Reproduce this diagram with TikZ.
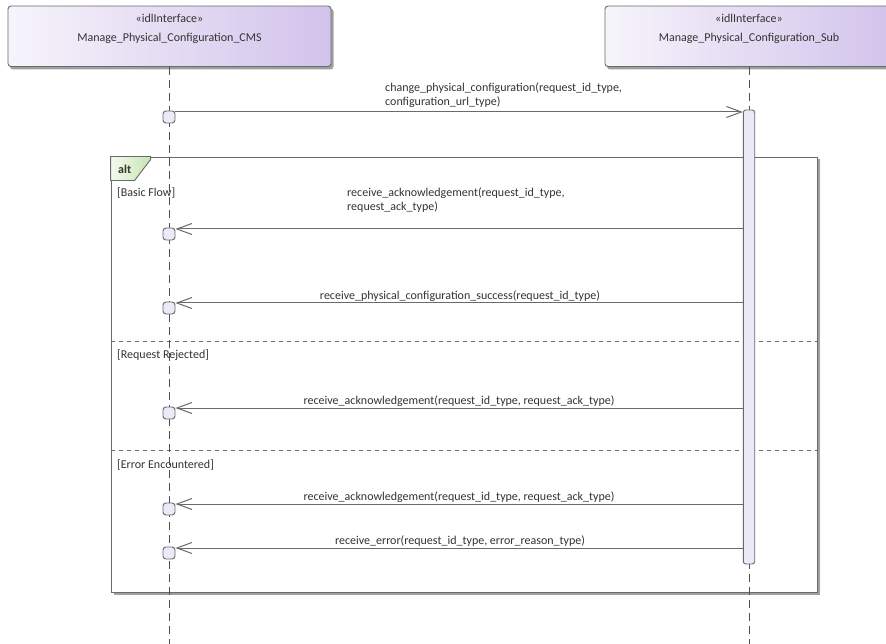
\documentclass[tikz,border=0pt]{standalone}
\usepackage{fontspec}
\setmainfont{Carlito}
\usetikzlibrary{arrows.meta,calc}
\definecolor{txt}{HTML}{333333}
\definecolor{ln}{HTML}{6A6A6A}
\definecolor{lifec}{HTML}{505050}
\definecolor{headL}{HTML}{F6F4FB}
\definecolor{headR}{HTML}{D2C3EB}
\definecolor{actfill}{HTML}{ECE9F8}
\definecolor{tabL}{HTML}{F4FAEE}
\definecolor{tabR}{HTML}{C8E5B4}
\definecolor{shadowc}{HTML}{A0A0A0}
\begin{document}
\begin{tikzpicture}[x=1pt,y=-1pt,
  every node/.style={font=\fontsize{12}{14}\selectfont, text=txt, inner sep=0pt},
  headbox/.style={draw=ln, line width=0.9pt, rounded corners=3pt,
    left color=headL, right color=headR, minimum height=60.5},
  shade box/.style={fill=shadowc, rounded corners=3pt},
  lifeline/.style={draw=lifec, line width=0.9pt, dash pattern=on 8pt off 5pt},
  actbar/.style={draw=ln, line width=0.9pt, fill=actfill, rounded corners=2.5pt,
    minimum width=11.4, minimum height=454},
  endpt/.style={draw=ln, line width=0.9pt, fill=actfill, rounded corners=3pt,
    minimum width=12, minimum height=12},
  msg/.style={draw=ln, line width=1pt, -{Straight Barb[length=15pt,width=11pt,line width=1pt]}},
  frm/.style={draw=ln, line width=0.9pt, fill=white},
  sep/.style={draw=ln, line width=0.9pt, dash pattern=on 4pt off 4pt},
  guard/.style={anchor=west},
  lbl/.style={align=left, anchor=west}]
\path[use as bounding box] (0,0) rectangle (886,644);
\fill[white] (0,0) rectangle (886,644);

% alt frame
\fill[shadowc] (113.5,159.5) rectangle (819.5,594.5);
\node[frm, minimum width=706, minimum height=435] (altf) at (464,374.5) {};
\fill[left color=tabL, right color=tabR, draw=ln, line width=0.9pt]
  (altf.north west) -- ++(40,0) -- ++(0,3) -- ++(-16,21) -- ++(-24,0) -- cycle;
\node[anchor=west, font=\fontsize{12}{14}\selectfont\bfseries] (altlbl) at (118,169) {alt};
\coordinate (s1) at (0,341);
\coordinate (s2) at (0,450);
\draw[sep] (altf.west |- s1) -- (altf.east |- s1);
\draw[sep] (altf.west |- s2) -- (altf.east |- s2);
\node[guard] (g1) at (117,193) {[Basic Flow]};
\node[guard] (g2) at (117,355) {[Request Rejected]};
\node[guard] (g3) at (117,465) {[Error Encountered]};

% lifeline heads
\fill[shade box] (10,8.5) rectangle (333.5,69.5);
\node[headbox, minimum width=323] (cms) at (169.5,36.3) {};
\begin{scope}
\clip (0,0) rectangle (886,644);
\fill[shade box] (607,8.5) rectangle (895,69.5);
\node[headbox, minimum width=288] (sub) at (749,36.3) {};
\end{scope}
\node (cmsst) at (169.5,18) {«idlInterface»};
\node (cmsnm) at (169.5,38.5) {Manage\_Physical\_Configuration\_CMS};
\node (subst) at (749,18) {«idlInterface»};
\node (subnm) at (749,38.5) {Manage\_Physical\_Configuration\_Sub};

\coordinate (cmsend) at (169,644);
\coordinate (subend) at (749,644);
\draw[lifeline] (cms.south -| cmsend) -- (cmsend);
\draw[lifeline] (sub.south -| subend) -- (subend);

% activation
\node[actbar] (actb) at (749,337) {};

% message end points
\node[endpt] (c1) at (169,117) {};
\node[endpt] (c2) at (169,234) {};
\node[endpt] (c3) at (169,308) {};
\node[endpt] (c4) at (169,413) {};
\node[endpt] (c5) at (169,509) {};
\node[endpt] (c6) at (169,553) {};

\coordinate (y1) at (0,112);
\coordinate (y2) at (0,229);
\coordinate (y3) at (0,303);
\coordinate (y4) at (0,408);
\coordinate (y5) at (0,504);
\coordinate (y6) at (0,548);

\draw[msg] (c1.east |- y1) -- (actb.west |- y1);
\draw[msg] (actb.west |- y2) -- (c2.east |- y2);
\draw[msg] (actb.west |- y3) -- (c3.east |- y3);
\draw[msg] (actb.west |- y4) -- (c4.east |- y4);
\draw[msg] (actb.west |- y5) -- (c5.east |- y5);
\draw[msg] (actb.west |- y6) -- (c6.east |- y6);

\node[lbl] (l1) at (385,94.7) {change\_physical\_configuration(request\_id\_type,\\configuration\_url\_type)};
\node[lbl] (l2) at (347,200) {receive\_acknowledgement(request\_id\_type,\\request\_ack\_type)};
\node (l3) at (460,296.5) {receive\_physical\_configuration\_success(request\_id\_type)};
\node (l4) at (459,401.5) {receive\_acknowledgement(request\_id\_type, request\_ack\_type)};
\node (l5) at (459,497) {receive\_acknowledgement(request\_id\_type, request\_ack\_type)};
\node (l6) at (460,541) {receive\_error(request\_id\_type, error\_reason\_type)};
\end{tikzpicture}
\end{document}
